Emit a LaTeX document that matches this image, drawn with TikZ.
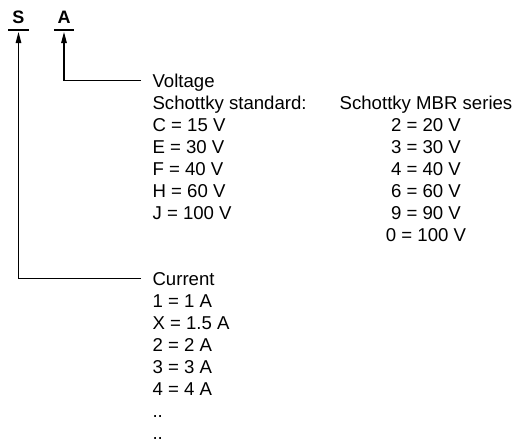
\documentclass[tikz,border=0pt]{standalone}
\usepackage{fontspec}
\setmainfont{Liberation Sans}
\usetikzlibrary{arrows.meta}
\begin{document}
\begin{tikzpicture}[x=1pt,y=-1pt,line width=1.1pt,>={Triangle[length=11pt,width=5.5pt]},
  code/.style={font=\fontsize{18}{18}\selectfont\bfseries,minimum width=19pt,inner xsep=0pt,inner ysep=6pt,text height=13pt,text depth=0pt,anchor=south},
  head/.style={font=\fontsize{18.6}{22}\selectfont,anchor=base west,inner xsep=11pt,inner ysep=0pt,text height=13.3pt,text depth=0pt},
  val/.style={font=\fontsize{18.6}{22}\selectfont,inner sep=0pt}]
  \useasboundingbox (0,0) rectangle (518,445);
  % part number letters
  \node[code] (s) at (18.5,30) {S};
  \node[code] (a) at (64,30) {A};
  \draw (s.south west) -- (s.south east);
  \draw (a.south west) -- (a.south east);
  % voltage
  \node[head] (volt) at (141,87) {Voltage};
  \node[val,anchor=base west] (std) at (152,109) {Schottky standard:};
  \foreach \lbl [count=\i] in {C = 15 V,E = 30 V,F = 40 V,H = 60 V,J = 100 V}
    \node[val,anchor=base west] (std\i) at (152,{109+22*\i}) {\lbl};
  \node[val,anchor=base] (mbr) at (426,109) {Schottky MBR series};
  \foreach \lbl [count=\i] in {2 = 20 V,3 = 30 V,4 = 40 V,6 = 60 V,9 = 90 V,0 = 100 V}
    \node[val,anchor=base] (mbr\i) at (426,{109+22*\i}) {\lbl};
  % current
  \node[head] (cur) at (141,285) {Current};
  \foreach \lbl [count=\i] in {1 = 1 A,X = 1.5 A,2 = 2 A,3 = 3 A,4 = 4 A,..,..}
    \node[val,anchor=base west] (amp\i) at (152,{285+22*\i}) {\lbl};
  \draw[->,shorten >=2pt] (volt.west) -| (a.south);
  \draw[->,shorten >=2pt] (cur.west) -| (s.south);
\end{tikzpicture}
\end{document}
